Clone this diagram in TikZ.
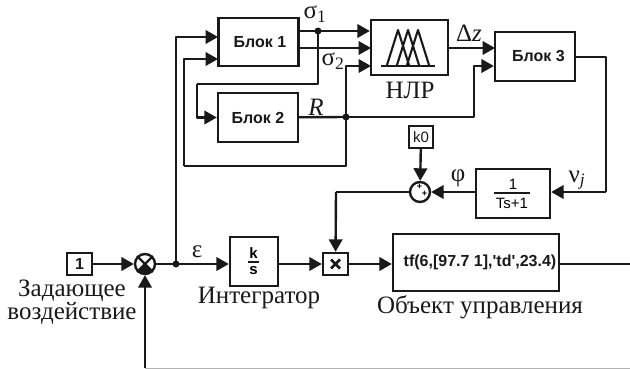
\documentclass[tikz,border=0pt]{standalone}
\usepackage{fontspec}
\setmainfont{Liberation Serif}
\newfontfamily\arialf{Liberation Sans}
\usetikzlibrary{arrows.meta}
\tikzset{
  line/.style={line width=2.4pt,draw=black!90,line join=round},
  arr/.style={line,-{Triangle[length=12.5pt,width=13.5pt]}},
  blockbox/.style={draw=black!90,line width=2.4pt,fill=white,inner sep=0pt,font=\arialf\bfseries\fontsize{16}{17}\selectfont,text=black!90},
  ser/.style={inner sep=0pt,font=\fontsize{25}{20}\selectfont,text=black!90},
  dot/.style={circle,fill=black!90,inner sep=0pt,minimum size=7pt},
  sumc/.style={circle,draw=black!90,line width=2.4pt,fill=white,inner sep=0pt,minimum size=20pt}
}
\begin{document}
\begin{tikzpicture}[x=1pt,y=-1pt]
\useasboundingbox (0,0) rectangle (630,369);
% blocks
\node[blockbox,minimum width=80pt,minimum height=48pt] (b1) at (258.5,42) {\hspace*{3pt}Блок 1};
\node[blockbox,minimum width=80pt,minimum height=49pt] (b2) at (258,117.5) {Блок 2};
\node[blockbox,minimum width=77pt,minimum height=55pt] (nlp) at (409.5,47.5) {};
\node[blockbox,minimum width=80pt,minimum height=49pt] (b3) at (535,56.5) {\hspace*{7pt}Блок 3};
\node[blockbox,minimum width=24pt,minimum height=22pt,font=\arialf\fontsize{15}{16}\selectfont] (k0) at (421,137) {k0};
\node[sumc] (sum2) at (420,192) {};
\node[blockbox,minimum width=74pt,minimum height=49pt] (tf1) at (513,193.5) {};
\node[blockbox,minimum width=25pt,minimum height=22pt] (one) at (79.5,264) {1};
\node[sumc] (sum1) at (145,264) {};
\node[blockbox,minimum width=48pt,minimum height=49pt] (int) at (254,261.5) {};
\node[blockbox,minimum width=25pt,minimum height=22pt] (mul) at (335.5,264) {};
\node[blockbox,minimum width=166pt,minimum height=57pt,font=\arialf\bfseries\fontsize{16}{18}\selectfont] (plant) at (476,262.5) {\hspace*{8pt}tf(6,[97.7 1],'td',23.4)};
% block contents
\node[inner sep=0pt,font=\arialf\fontsize{15}{15}\selectfont] (tf1n) at (513,184.5) {1};
\node[inner sep=0pt,font=\arialf\fontsize{15}{15}\selectfont] (tf1d) at (512,203) {Ts+1};
\draw[line] (494,193) -- (530,193);
\node[inner sep=0pt,font=\arialf\bfseries\fontsize{15}{15}\selectfont] (intn) at (253.5,253) {k};
\node[inner sep=0pt,font=\arialf\bfseries\fontsize{15}{15}\selectfont] (intd) at (253.5,271) {s};
\draw[line] (248,262) -- (259,262);
\draw[line width=2.8pt,draw=black!90] (331,259.5) -- (340,268.5) (340,259.5) -- (331,268.5);
% sum 1 symbol
\fill[black!90] (sum1.center) -- (sum1.-45) -- (sum1.-90) -- (sum1.-135) -- cycle;
\draw[line width=2.2pt,draw=black!90] (sum1.45) -- (sum1.-135) (sum1.135) -- (sum1.-45);
% sum 2 signs
\node[inner sep=0pt,font=\arialf\bfseries\fontsize{9}{9}\selectfont] (plusa) at (419.5,186.5) {+};
\node[inner sep=0pt,font=\arialf\bfseries\fontsize{9}{9}\selectfont] (plusb) at (424.5,194) {+};
% NLP symbol
\draw[line width=2.6pt,draw=black!90] (381,66) -- (435,66);
\draw[line width=2.1pt,draw=black!90,line join=round]
  (387,65) -- (398,30) -- (409,65)
  (397,65) -- (408,30) -- (419,65)
  (407,65) -- (418,30) -- (429,65);
% junctions
\coordinate (ju) at (176,264);
\coordinate (js1) at (318,31);
\coordinate (jr) at (346,117);
\coordinate (c1) at (197,84);
\coordinate (c2) at (184,166);
\coordinate (c3) at (606,192);
\coordinate (c4) at (336,192);
\coordinate (c5) at (474,66);
\coordinate (i1) at (218,37);
\coordinate (i2) at (218,59);
\coordinate (o2) at (298,48);
\coordinate (n2) at (371,48);
\coordinate (n3) at (371,66);
\coordinate (o3a) at (448,48);
\coordinate (b3a) at (495,48);
\coordinate (o3b) at (575,57);
\coordinate (fbb) at (145,368);
\coordinate (fbe) at (630,368);
\coordinate (out) at (630,264);
% connectors
\draw[arr] (one) -- (sum1);
\draw[line] (sum1) -- (ju);
\draw[arr] (ju) -- (int.west |- ju);
\draw[arr] (ju) |- (i1);
\draw[arr] (int.east |- ju) -- (mul);
\draw[arr] (mul) -- (plant.west |- mul);
\draw[line] (plant.east |- out) -- (out);
\draw[arr] (fbb) -- (sum1);
\draw[line width=.8pt,draw=black!30] (fbb) -- (fbe);
\draw[arr] (b1.east |- js1) -- (nlp.west |- js1);
\draw[arr] (o2) -- (n2);
\draw[line] (js1) |- (c1);
\draw[arr] (c1) |- (b2.west);
\draw[arr] (jr) |- (n3);
\draw[line] (jr) |- (c2);
\draw[arr] (c2) |- (i2);
\draw[line] (b2) -- (jr);
\draw[arr] (jr) -| (c5) -- (b3.west |- c5);
\draw[arr] (o3a) -- (b3a);
\draw[line] (o3b) -| (c3);
\draw[arr] (c3) -- (tf1.east |- c3);
\draw[arr] (tf1.west |- c3) -- (sum2);
\draw[arr] (k0) -- (sum2);
\draw[line] (sum2) -- (c4);
\draw[arr] (c4) -- (mul);
\node[dot] (d1) at (ju) {};
\node[dot] (d2) at (js1) {};
\node[dot] (d3) at (jr) {};
% labels
\node[ser] (ls1) at (315,14) {σ\textsubscript{1}};
\node[ser] (ls2) at (333,61) {σ\textsubscript{2}};
\node[ser,font=\itshape\fontsize{25}{25}\selectfont] (lr) at (316,107) {R};
\node[ser] (lnlp) at (410,90) {НЛР};
\node[ser] (ldz) at (469,33) {Δ\textit{z}};
\node[ser] (lphi) at (458,178) {φ};
\node[ser] (lnu) at (577,180) {ν\textsubscript{\textit{j}}};
\node[ser] (leps) at (197,252) {ε};
\node[ser,align=center] (lzad) at (72,302) {Задающее\\воздействие};
\node[ser] (lint) at (259,298) {Интегратор};
\node[ser] (lobj) at (480,307) {Объект управления};
\end{tikzpicture}
\end{document}
